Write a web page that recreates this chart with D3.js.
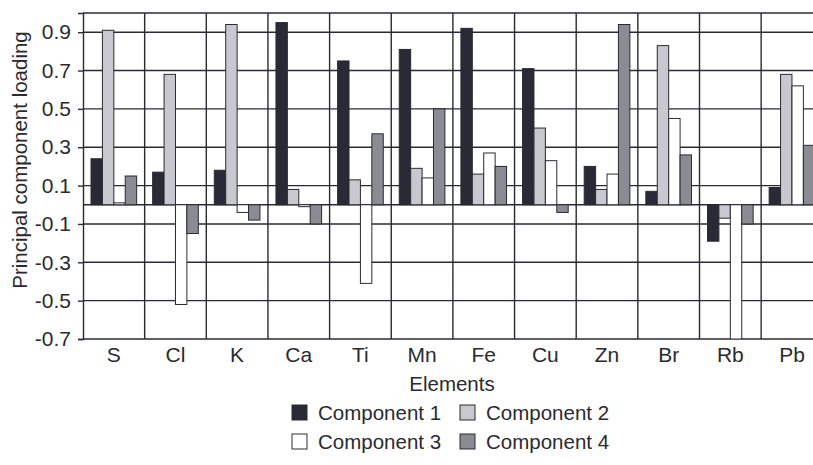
<!DOCTYPE html>
<html>
<head>
<meta charset="utf-8">
<script src="https://cdn.jsdelivr.net/npm/d3@7"></script>
<style>
  body { margin: 0; background: #fff; }
  svg text { font-family: "Liberation Sans", Arial, sans-serif; fill: #2a2a30; }
</style>
</head>
<body>
<svg id="chart" width="813" height="465"></svg>
<script>
'use strict';

// data
var elements = ['S', 'Cl', 'K', 'Ca', 'Ti', 'Mn', 'Fe', 'Cu', 'Zn', 'Br', 'Rb', 'Pb'];
var components = ['Component 1', 'Component 2', 'Component 3', 'Component 4'];
var comp1 = [0.24, 0.17, 0.18, 0.95, 0.75, 0.81, 0.92, 0.71, 0.20, 0.07, -0.19, 0.09];
var comp2 = [0.91, 0.68, 0.94, 0.08, 0.13, 0.19, 0.16, 0.40, 0.08, 0.83, -0.07, 0.68];
var comp3 = [0.01, -0.52, -0.04, -0.01, -0.41, 0.14, 0.27, 0.23, 0.16, 0.45, -0.70, 0.62];
var comp4 = [0.15, -0.15, -0.08, -0.10, 0.37, 0.50, 0.20, -0.04, 0.94, 0.26, -0.10, 0.31];
var yTicks = [-0.7, -0.5, -0.3, -0.1, 0.1, 0.3, 0.5, 0.7, 0.9];

var fills = ['#2a2a36', '#c8c8ce', '#ffffff', '#8b8b94'];
var ink = '#2a2a34';

var series = [comp1, comp2, comp3, comp4];
var rows = [];
elements.forEach(function (el, i) {
    series.forEach(function (s, k) {
        rows.push({ el: el, comp: components[k], k: k, value: s[i] });
    });
});

var svg = d3.select('#chart');
var plotLeft = 83, plotTop = 13, plotBottom = 339;
var catW = 61.65;

var x = d3.scaleBand()
    .domain(elements)
    .range([plotLeft, plotLeft + catW * elements.length])
    .paddingInner(0).paddingOuter(0);

var xs = d3.scaleBand()
    .domain(components)
    .range([8, catW - 8])
    .padding(0);

var y = d3.scaleLinear()
    .domain([-0.7, 1.0])
    .range([plotBottom, plotTop]);

var plotRight = x.range()[1];

// horizontal grid lines
svg.append('g')
    .selectAll('line')
    .data(yTicks.concat([0, 1.0]))
    .enter().append('line')
    .attr('x1', plotLeft).attr('x2', plotRight)
    .attr('y1', function (d) { return y(d); })
    .attr('y2', function (d) { return y(d); })
    .attr('stroke', ink).attr('stroke-width', 1.4);

// vertical grid lines at category boundaries
svg.append('g')
    .selectAll('line')
    .data(elements.slice(1))
    .enter().append('line')
    .attr('x1', function (d) { return x(d); })
    .attr('x2', function (d) { return x(d); })
    .attr('y1', plotTop).attr('y2', plotBottom)
    .attr('stroke', ink).attr('stroke-width', 1.4);

// bars
svg.append('defs').append('clipPath').attr('id', 'plotclip')
    .append('rect').attr('x', plotLeft).attr('y', plotTop)
    .attr('width', plotRight - plotLeft).attr('height', plotBottom - plotTop);

svg.append('g')
    .attr('clip-path', 'url(#plotclip)')
    .selectAll('rect')
    .data(rows)
    .enter().append('rect')
    .attr('x', function (d) { return x(d.el) + xs(d.comp); })
    .attr('width', xs.bandwidth())
    .attr('y', function (d) { return y(Math.max(0, d.value)); })
    .attr('height', function (d) { return Math.abs(y(d.value) - y(0)); })
    .attr('fill', function (d) { return fills[d.k]; })
    .attr('stroke', ink).attr('stroke-width', 1);

// y axis (plain hyphen for the minus sign, like the original)
var fmt = d3.format('.1f');
var yAxis = svg.append('g')
    .attr('transform', 'translate(' + plotLeft + ',0)')
    .call(d3.axisLeft(y).tickValues(yTicks).tickSize(5).tickPadding(7)
        .tickFormat(function (d) { return fmt(d).replace('\u2212', '-'); }));
yAxis.select('.domain').attr('stroke', ink).attr('stroke-width', 1.4);
yAxis.selectAll('.tick line').attr('stroke', ink).attr('stroke-width', 1.4);
yAxis.selectAll('.tick text').attr('font-size', 21).attr('fill', ink)
    .attr('font-family', '"Liberation Sans", Arial, sans-serif');

// x category labels
svg.append('g')
    .selectAll('text')
    .data(elements)
    .enter().append('text')
    .attr('x', function (d) { return x(d) + x.bandwidth() / 2; })
    .attr('y', 362)
    .attr('text-anchor', 'middle')
    .attr('font-size', 21)
    .text(function (d) { return d; });

svg.append('text')
    .attr('x', 452).attr('y', 391)
    .attr('text-anchor', 'middle')
    .attr('font-size', 20.5)
    .text('Elements');

svg.append('text')
    .attr('transform', 'translate(27,160) rotate(-90)')
    .attr('text-anchor', 'middle')
    .attr('font-size', 20.5)
    .text('Principal component loading');

// legend, two rows of two
var legend = svg.append('g')
    .selectAll('g')
    .data(components)
    .enter().append('g')
    .attr('transform', function (d, i) {
        return 'translate(' + (i % 2 === 0 ? 292 : 460) + ',' + (i < 2 ? 405 : 434) + ')';
    });

legend.append('rect')
    .attr('width', 15).attr('height', 15)
    .attr('fill', function (d, i) { return fills[i]; })
    .attr('stroke', ink).attr('stroke-width', 1);

legend.append('text')
    .attr('x', 26).attr('y', 15)
    .attr('font-size', 20.5)
    .text(function (d) { return d; });
</script>
</body>
</html>
